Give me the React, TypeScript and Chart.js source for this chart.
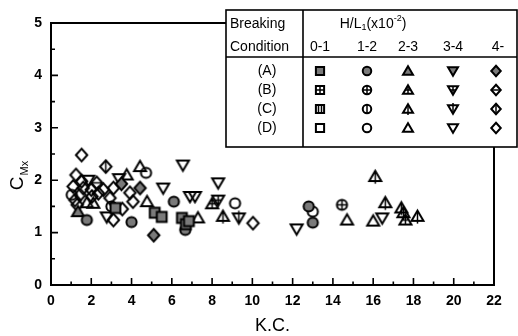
import { useEffect, useRef } from "react";
import { Chart, registerables } from "chart.js";
Chart.register(...registerables);

type P = [number, number];

const rowLabels = ["(A)", "(B)", "(C)", "(D)"];
const rangeLabels = ["0-1", "1-2", "2-3", "3-4", "4-"];
const shapes = ["square", "circle", "triUp", "triDown", "diamond"];
const xTickValues = [0, 2, 4, 6, 8, 10, 12, 14, 16, 18, 20, 22];
const yTickValues = [0, 1, 2, 3, 4, 5];

// (A)
const A_01: P[] = [[3.2, 1.47], [5.15, 1.38], [5.5, 1.3], [6.5, 1.28], [6.7, 1.16], [6.85, 1.22]];
const A_12: P[] = [[1.78, 1.24], [4.0, 1.2], [6.1, 1.59], [6.67, 1.05], [12.8, 1.5], [13.0, 1.19]];
const A_23: P[] = [[1.34, 1.4]];
const A_34: P[] = [];
const A_4: P[] = [[5.1, 0.95], [4.42, 1.85], [3.5, 1.93]];
// (B)
const B_01: P[] = [];
const B_12: P[] = [[14.45, 1.53]];
const B_23: P[] = [[8.0, 1.55], [17.6, 1.24]];
const B_34: P[] = [[8.3, 1.62]];
const B_4: P[] = [[2.27, 1.95]];
// (C)
const C_01: P[] = [];
const C_12: P[] = [];
const C_23: P[] = [[8.54, 1.31], [16.1, 2.07], [16.6, 1.57], [17.4, 1.47], [18.2, 1.31], [17.5, 1.38]];
const C_34: P[] = [[9.33, 1.28]];
const C_4: P[] = [[2.72, 2.26]];
// (D)
const D_01: P[] = [];
const D_12: P[] = [[1.03, 1.72], [4.72, 2.14], [3.0, 1.5], [9.14, 1.56], [13.0, 1.4]];
const D_23: P[] = [[4.42, 2.26], [3.76, 2.1], [4.77, 1.59], [1.78, 1.57], [7.3, 1.28], [14.7, 1.24], [16.0, 1.22], [2.1, 1.56]];
const D_34: P[] = [[1.85, 2.0], [3.38, 2.03], [6.55, 2.29], [5.57, 1.85], [6.9, 1.69], [7.15, 1.69], [8.3, 1.95], [2.77, 1.3], [12.2, 1.07], [16.45, 1.28]];
const D_4: P[] = [[1.52, 2.48], [1.24, 2.1], [1.52, 1.98], [1.1, 1.88], [1.6, 1.85], [2.0, 1.82], [2.6, 1.82], [3.1, 1.85], [3.92, 1.76], [1.44, 1.72], [2.03, 1.69], [2.93, 1.66], [4.07, 1.59], [1.19, 1.62], [1.3, 1.53], [3.54, 1.45], [3.1, 1.24], [10.03, 1.18], [2.35, 1.75]];

const seriesTable: P[][][] = [
  [A_01, A_12, A_23, A_34, A_4],
  [B_01, B_12, B_23, B_34, B_4],
  [C_01, C_12, C_23, C_34, C_4],
  [D_01, D_12, D_23, D_34, D_4],
];

function shapePath(ctx: CanvasRenderingContext2D, shape: string, cx: number, cy: number, r: number) {
  ctx.beginPath();
  if (shape === "square") {
    const s = r * 0.82;
    ctx.rect(cx - s, cy - s, 2 * s, 2 * s);
  } else if (shape === "circle") {
    ctx.arc(cx, cy, r * 0.85, 0, Math.PI * 2);
  } else if (shape === "triUp") {
    ctx.moveTo(cx, cy - r * 0.95);
    ctx.lineTo(cx + r, cy + r * 0.75);
    ctx.lineTo(cx - r, cy + r * 0.75);
    ctx.closePath();
  } else if (shape === "triDown") {
    ctx.moveTo(cx, cy + r * 0.95);
    ctx.lineTo(cx + r, cy - r * 0.75);
    ctx.lineTo(cx - r, cy - r * 0.75);
    ctx.closePath();
  } else {
    ctx.moveTo(cx, cy - r * 1.05);
    ctx.lineTo(cx + r * 0.95, cy);
    ctx.lineTo(cx, cy + r * 1.05);
    ctx.lineTo(cx - r * 0.95, cy);
    ctx.closePath();
  }
}

function drawMarker(ctx: CanvasRenderingContext2D, col: number, row: number, cx: number, cy: number, r: number, lw: number) {
  const shape = shapes[col];
  ctx.save();
  ctx.strokeStyle = "#000";
  ctx.lineWidth = lw;
  ctx.lineJoin = "miter";
  shapePath(ctx, shape, cx, cy, r);
  if (row === 0) {
    ctx.fillStyle = "#7a7a7a";
    ctx.fill();
  }
  ctx.stroke();
  if (row === 1 || row === 2) {
    ctx.save();
    shapePath(ctx, shape, cx, cy, r);
    ctx.clip();
    ctx.lineWidth = lw * 0.75;
    ctx.beginPath();
    if (row === 1) {
      ctx.moveTo(cx - r * 1.2, cy);
      ctx.lineTo(cx + r * 1.2, cy);
      if (shape !== "diamond") {
        ctx.moveTo(cx, cy - r * 1.2);
        ctx.lineTo(cx, cy + r * 1.2);
      }
    } else {
      if (shape === "square") {
        ctx.moveTo(cx - r * 0.3, cy - r);
        ctx.lineTo(cx - r * 0.3, cy + r);
        ctx.moveTo(cx + r * 0.3, cy - r);
        ctx.lineTo(cx + r * 0.3, cy + r);
      } else {
        ctx.moveTo(cx, cy - r * 1.2);
        ctx.lineTo(cx, cy + r * 1.2);
      }
    }
    ctx.stroke();
    ctx.restore();
    if (row === 2 && (shape === "triUp" || shape === "triDown")) {
      ctx.lineWidth = lw * 0.75;
      ctx.beginPath();
      if (shape === "triUp") {
        ctx.moveTo(cx, cy + r * 0.75);
        ctx.lineTo(cx, cy + r * 1.2);
      } else {
        ctx.moveTo(cx, cy - r * 0.75);
        ctx.lineTo(cx, cy - r * 1.2);
      }
      ctx.stroke();
    }
  }
  ctx.restore();
}

function makeMarker(col: number, row: number, r: number, lw: number): HTMLCanvasElement {
  const size = Math.ceil(2 * r * 1.25 + lw + 2);
  const c = document.createElement("canvas");
  c.width = size;
  c.height = size;
  const ctx = c.getContext("2d")!;
  drawMarker(ctx, col, row, size / 2, size / 2, r, lw);
  return c;
}

const FONT = "'Liberation Sans', Arial, sans-serif";

const decorPlugin = {
  id: "decor",
  beforeDatasetsDraw(chart: any) {
    const { ctx, chartArea: a, scales } = chart;
    ctx.save();
    ctx.strokeStyle = "#000";
    ctx.lineWidth = 2;
    ctx.strokeRect(a.left, a.top, a.right - a.left, a.bottom - a.top);
    ctx.lineWidth = 1.6;
    ctx.beginPath();
    for (let v = 0; v <= 22; v += 1) {
      const x = scales.x.getPixelForValue(v);
      const len = v % 2 === 0 ? 7 : 3.5;
      ctx.moveTo(x, a.bottom);
      ctx.lineTo(x, a.bottom - len);
    }
    for (let v = 0; v <= 5; v += 0.5) {
      const y = scales.y.getPixelForValue(v);
      const len = Number.isInteger(v) ? 7 : 4;
      ctx.moveTo(a.left, y);
      ctx.lineTo(a.left + len, y);
    }
    ctx.stroke();
    ctx.restore();
  },
  afterDatasetsDraw(chart: any) {
    const { ctx, chartArea: a } = chart;
    ctx.save();
    // axis titles
    ctx.fillStyle = "#000";
    ctx.textBaseline = "middle";
    ctx.textAlign = "center";
    ctx.font = `18px ${FONT}`;
    ctx.fillText("K.C.", (a.left + a.right) / 2, 326);
    ctx.save();
    ctx.translate(18, 176);
    ctx.rotate(-Math.PI / 2);
    ctx.font = `19px ${FONT}`;
    const wC = ctx.measureText("C").width;
    ctx.font = `11px ${FONT}`;
    const wS = ctx.measureText("Mx").width;
    const start = -(wC + wS) / 2;
    ctx.textAlign = "left";
    ctx.font = `19px ${FONT}`;
    ctx.fillText("C", start, 0);
    ctx.font = `11px ${FONT}`;
    ctx.fillText("Mx", start + wC + 1, 7);
    ctx.restore();

    // legend table
    const L = 226, R = 517, T = 10, B = 147, V = 303, H = 57;
    ctx.fillStyle = "#fff";
    ctx.fillRect(L, T, R - L, B - T);
    ctx.strokeStyle = "#000";
    ctx.lineWidth = 1.6;
    ctx.strokeRect(L, T, R - L, B - T);
    ctx.beginPath();
    ctx.moveTo(V, T);
    ctx.lineTo(V, B);
    ctx.moveTo(L, H);
    ctx.lineTo(R, H);
    ctx.stroke();

    ctx.fillStyle = "#000";
    ctx.font = `14px ${FONT}`;
    ctx.textAlign = "left";
    ctx.fillText("Breaking", 230, 24);
    ctx.fillText("Condition", 230, 47);

    // H/L1(x10^-2)
    const parts: [string, number, number][] = [
      ["H/L", 14, 0],
      ["1", 9, 4],
      ["(x10", 14, 0],
      ["-2", 9, -5],
      [")", 14, 0],
    ];
    let total = 0;
    for (const [t, s] of parts) {
      ctx.font = `${s}px ${FONT}`;
      total += ctx.measureText(t).width;
    }
    let x = 373 - total / 2;
    for (const [t, s, dy] of parts) {
      ctx.font = `${s}px ${FONT}`;
      ctx.fillText(t, x, 24 + dy);
      x += ctx.measureText(t).width;
    }

    const colX = [320, 367, 408, 453, 496];
    const rowY = [71, 90, 109, 128];
    ctx.font = `14px ${FONT}`;
    ctx.textAlign = "center";
    rangeLabels.forEach((lab, i) => ctx.fillText(lab, colX[i] + (i === 4 ? 2 : 0), 47));
    rowLabels.forEach((lab, j) => ctx.fillText(lab, 267, rowY[j]));
    for (let j = 0; j < 4; j++) {
      for (let i = 0; i < 5; i++) {
        drawMarker(ctx, i, j, colX[i], rowY[j], 5, 2);
      }
    }
    ctx.restore();
  },
};

export default function App() {
  const ref = useRef<HTMLCanvasElement>(null);
  useEffect(() => {
    const datasets: any[] = [];
    seriesTable.forEach((rowSeries, j) => {
      rowSeries.forEach((pts, i) => {
        datasets.push({
          label: `${rowLabels[j]} ${rangeLabels[i]}`,
          data: pts.map(([x, y]) => ({ x, y })),
          pointStyle: makeMarker(i, j, 6, 2),
          pointRadius: 5,
          showLine: false,
        });
      });
    });
    const chart = new Chart(ref.current!, {
      type: "scatter",
      data: { datasets },
      options: {
        animation: false,
        responsive: false,
        devicePixelRatio: 1,
        layout: { padding: { top: 23, right: 24, left: 0, bottom: 0 } },
        plugins: { legend: { display: false }, tooltip: { enabled: false } },
        scales: {
          x: {
            type: "linear",
            min: 0,
            max: 22,
            afterFit: (s: any) => { s.height = 51; },
            afterBuildTicks: (s: any) => { s.ticks = xTickValues.map((v) => ({ value: v })); },
            grid: { display: false, drawTicks: false },
            border: { display: false },
            ticks: { color: "#000", padding: 8, font: { family: FONT, size: 14, weight: "bold" } },
          },
          y: {
            type: "linear",
            min: 0,
            max: 5,
            afterFit: (s: any) => { s.width = 51; },
            afterBuildTicks: (s: any) => { s.ticks = yTickValues.map((v) => ({ value: v })); },
            grid: { display: false, drawTicks: false },
            border: { display: false },
            ticks: { color: "#000", padding: 9, font: { family: FONT, size: 14, weight: "bold" } },
          },
        },
      },
      plugins: [decorPlugin],
    });
    return () => chart.destroy();
  }, []);
  return (
    <div style={{ position: "absolute", left: 0, top: 0, width: 518, height: 336, background: "#fff" }}>
      <canvas ref={ref} width={518} height={336} />
    </div>
  );
}
